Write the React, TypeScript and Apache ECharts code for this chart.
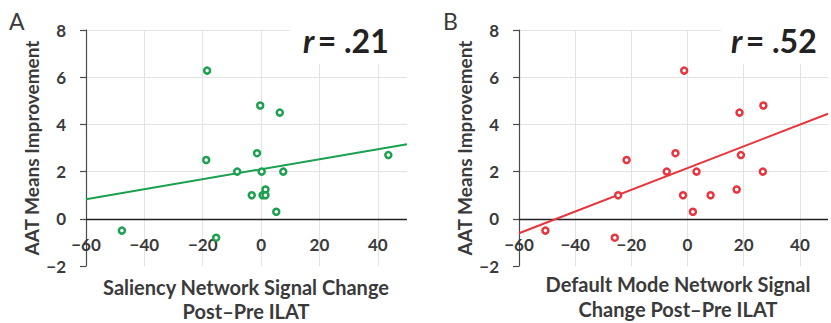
import React, { useEffect, useRef } from "react";
import * as echarts from "echarts";

const xTicksMin = -60;
const xTicksMax = 50;
const yMin = -2;
const yMax = 8;
const zeroLine = 0;

const saliencyX = [-18.5, -0.3, 6.4, -1.4, -18.8, -8.2, 0.2, 7.6, 43.6, 1.5, 0.5, 1.5, -3.2, 5.2, -47.7, -15.4];
const saliencyY = [6.28, 4.8, 4.5, 2.78, 2.49, 2.0, 2.0, 2.0, 2.7, 1.24, 1.0, 1.0, 1.0, 0.3, -0.5, -0.8];

const dmnX = [-1.2, 18.5, 27.0, -4.3, -21.7, 19.0, -7.4, 3.2, 26.8, -24.7, -1.6, 8.2, 17.5, 1.9, -50.6, -25.9];
const dmnY = [6.28, 4.5, 4.8, 2.78, 2.49, 2.7, 2.0, 2.0, 2.0, 1.0, 1.0, 1.0, 1.24, 0.3, -0.5, -0.8];

const trendA = [[-60, 0.83], [50, 3.16]];
const trendB = [[-60, -0.61], [50, 4.45]];

const yAxisTitle = "AAT Means Improvement";
const xTitleA = ["Saliency Network Signal Change", "Post\u2013Pre ILAT"];
const xTitleB = ["Default Mode Network Signal", "Change Post\u2013Pre ILAT"];
const rA = ".21";
const rB = ".52";

const GREEN = "#1ba04f";
const RED = "#e8343c";
const FONT = "Lato, 'Open Sans', sans-serif";
const TEXT = "#3a3a3a";

const fmt = (v: number) => (v < 0 ? "\u2212" + Math.abs(v) : String(v));

function makeXAxis(gridIndex: number) {
  return {
    type: "value",
    gridIndex,
    min: xTicksMin,
    max: xTicksMax,
    interval: 20,
    axisLine: { show: false, onZero: false },
    axisTick: { show: false },
    axisLabel: {
      margin: -30,
      color: TEXT,
      fontFamily: FONT,
      fontWeight: "bold",
      fontSize: 17,
      formatter: (v: number) => (v === xTicksMax ? "" : fmt(v)),
    },
    splitLine: { show: true, showMaxLine: false, lineStyle: { color: "#e3e3e3", width: 1 } },
  };
}

function makeYAxis(gridIndex: number) {
  return {
    type: "value",
    gridIndex,
    min: yMin,
    max: yMax,
    interval: 2,
    name: yAxisTitle,
    nameLocation: "middle",
    nameRotate: 90,
    nameGap: 45,
    nameTextStyle: { color: TEXT, fontFamily: FONT, fontWeight: "bold", fontSize: 19 },
    axisLine: { show: true, onZero: false, lineStyle: { color: "#4a4a4a", width: 1.2 } },
    axisTick: { show: true, length: 6, lineStyle: { color: "#4a4a4a", width: 1.2 } },
    axisLabel: {
      margin: 20,
      color: TEXT,
      fontFamily: FONT,
      fontWeight: "bold",
      fontSize: 17,
      formatter: (v: number) => fmt(v),
    },
    splitLine: { show: true, showMinLine: false, lineStyle: { color: "#e3e3e3", width: 1 } },
  };
}

export default function App() {
  const ref = useRef<HTMLDivElement>(null);
  useEffect(() => {
    if (!ref.current) return;
    const chart = echarts.init(ref.current, null, { renderer: "svg" });
    const scatter = (xs: number[], ys: number[], color: string, idx: number) => ({
      type: "scatter",
      xAxisIndex: idx,
      yAxisIndex: idx,
      symbol: "circle",
      symbolSize: 6,
      z: 5,
      itemStyle: { color: "#ffffff", borderColor: color, borderWidth: 2.5, opacity: 1 },
      data: xs.map((x, i) => [x, ys[i]]),
    });
    const trend = (pts: number[][], color: string, idx: number) => ({
      type: "line",
      xAxisIndex: idx,
      yAxisIndex: idx,
      symbol: "none",
      z: 4,
      lineStyle: { color, width: 2 },
      data: pts,
      markLine: {
        silent: true,
        symbol: "none",
        z: 3,
        label: { show: false },
        lineStyle: { color: "#222222", width: 1.4, type: "solid", opacity: 1 },
        data: [{ yAxis: zeroLine }],
      },
    });
    const titleText = (lines: string[], cx: number, ys: number[]) =>
      lines.map((t, i) => ({
        type: "text",
        x: cx,
        y: ys[i],
        z: 20,
        style: {
          text: t,
          fill: TEXT,
          font: `bold 20px ${FONT}`,
          textAlign: "center",
          textVerticalAlign: "middle",
        },
      }));
    const rText = (val: string, x: number) => ({
      type: "text",
      x,
      y: 40,
      z: 20,
      style: {
        text: `{i|r} {n|= ${val}}`,
        textVerticalAlign: "middle",
        rich: {
          i: { fontFamily: FONT, fontWeight: "bold", fontStyle: "italic", fontSize: 32, fill: "#222" },
          n: { fontFamily: FONT, fontWeight: "bold", fontSize: 32, fill: "#222" },
        },
      },
    });
    chart.setOption({
      animation: false,
      backgroundColor: "#ffffff",
      grid: [
        { left: 86, right: 424, top: 30, bottom: 57 },
        { left: 519, right: -9, top: 30, bottom: 57 },
      ],
      xAxis: [makeXAxis(0), makeXAxis(1)],
      yAxis: [makeYAxis(0), makeYAxis(1)],
      series: [
        trend(trendA, GREEN, 0),
        scatter(saliencyX, saliencyY, GREEN, 0),
        trend(trendB, RED, 1),
        scatter(dmnX, dmnY, RED, 1),
      ],
      graphic: [
        { type: "rect", shape: { x: 290, y: 0, width: 125, height: 64 }, style: { fill: "#ffffff" }, z: 10 },
        { type: "rect", shape: { x: 721, y: 0, width: 110, height: 64 }, style: { fill: "#ffffff" }, z: 10 },
        rText(rA, 303),
        rText(rB, 731),
        {
          type: "text", x: 9, y: 21, z: 20,
          style: { text: "A", fill: TEXT, font: `23px ${FONT}`, textVerticalAlign: "middle" },
        },
        {
          type: "text", x: 443, y: 21, z: 20,
          style: { text: "B", fill: TEXT, font: `23px ${FONT}`, textVerticalAlign: "middle" },
        },
        ...titleText(xTitleA, 246, [287, 311]),
        ...titleText(xTitleB, 678, [284, 309]),
      ],
    });
    return () => chart.dispose();
  }, []);
  return (
    <div
      ref={ref}
      style={{ position: "absolute", left: 0, top: 0, width: 831, height: 323, overflow: "hidden" }}
    />
  );
}
